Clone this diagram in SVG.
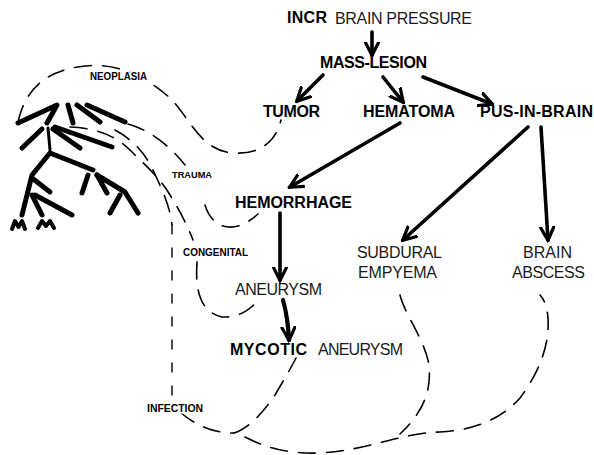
<svg xmlns="http://www.w3.org/2000/svg" width="594" height="455" viewBox="0 0 594 455">
<style>
.b{font-family:"Liberation Sans",Arial,sans-serif;font-weight:bold;font-size:16px;fill:#000}
.r{font-family:"Liberation Sans",Arial,sans-serif;font-size:16px;fill:#1a1a1a}
.s{font-family:"Liberation Sans",Arial,sans-serif;font-weight:bold;font-size:10px;fill:#000;stroke:#fff;stroke-width:3px;paint-order:stroke}
.arr{fill:none;stroke:#000;stroke-width:3.6;stroke-linecap:round;marker-end:url(#ah)}
.dash{fill:none;stroke:#000;stroke-width:1.6;stroke-dasharray:17 11;stroke-linecap:round}
.dot{fill:none;stroke:#000;stroke-width:1.4;stroke-dasharray:9 14;stroke-linecap:round}
.tr{fill:none;stroke:#000;stroke-width:5;stroke-linecap:round;stroke-linejoin:round}
</style>
<defs>
<marker id="ah" viewBox="0 0 16 16" refX="13.5" refY="8" markerWidth="16" markerHeight="16" markerUnits="userSpaceOnUse" orient="auto">
<path d="M1,1.5 L14,8 L1,14.5" fill="none" stroke="#000" stroke-width="3.2" stroke-linecap="round"/>
</marker>
</defs>
<rect width="594" height="455" fill="#fff"/>

<g id="tree">
<path class="tr" d="M18,123 L57,105 L47,123"/>
<path class="tr" d="M68,105 L73,123"/>
<path class="tr" d="M77,105 L100,122"/>
<path class="tr" d="M87,105 L125,122"/>
<path class="tr" d="M48,128 L50,150" style="stroke-width:3"/>
<path class="tr" d="M42,129 L22,148"/>
<path class="tr" d="M53,129 L80,148"/>
<path class="tr" d="M55,127 L112,147"/>
<path class="tr" d="M22,215 L32,175 L50,153 L93,170"/>
<path class="tr" d="M88,175 L82,193"/>
<path class="tr" d="M97,175 L107,193"/>
<path class="tr" d="M97,175 L125,192 L138,213"/>
<path class="tr" d="M120,195 L110,213"/>
<path class="tr" d="M32,178 L50,192"/>
<path class="tr" d="M32,195 L42,215"/>
<path class="tr" d="M35,195 L72,215"/>
<path class="tr" d="M12,229 L15,221 L18.5,227 L22,221 L25,229" style="stroke-width:4"/>
<path class="tr" d="M38,228 L42,221 L46,226 L50,221 L54,228" style="stroke-width:4"/>
</g>

<g id="connectors">
<path class="arr" d="M372,32 L372,55"/>
<path class="arr" d="M323,75 L297,101"/>
<path class="arr" d="M383,77 L403,102"/>
<path class="arr" d="M423,77 L492,104"/>
<path class="arr" d="M400,123 L290,187"/>
<path class="arr" d="M528,127 L403,240"/>
<path class="arr" d="M541,127 L548,240"/>
<path class="arr" d="M280,213 L280,280"/>
<path class="arr" d="M283,300 Q288,318 289,340" style="stroke-width:4.2"/>

<path class="dash" d="M18,122 C25,90 45,70 85,66 C120,62 150,80 170,98 C190,118 200,150 232,153 C262,155 276,140 281,120"/>
<path class="dash" d="M128,124 C150,130 170,146 185,165"/>
<path class="dash" d="M205,205 C208,215 215,226 228,227 C240,228 250,221 258,214"/>
<path class="dash" d="M70,127 C95,128 115,135 130,150 C145,165 160,178 170,195 C178,208 186,222 193,240"/>
<path class="dash" d="M197,262 C195,290 200,312 222,317 C240,318 252,308 258,300"/>
<path class="dash" d="M115,130 C130,138 143,150 152,168 C160,185 170,205 172,225"/>
<path class="dot" d="M172,225 L172,395"/>
<path class="dash" d="M180,412 C195,425 212,433 234,433"/>
<path class="dash" d="M234,433 C250,428 265,410 275,395 C285,378 292,366 296,358"/>
<path class="dash" d="M245,437 C265,447 285,454 320,453 C370,450 400,433 440,432 C480,430 505,415 520,398 C535,378 550,350 548,318 C547,305 543,298 540,295"/>
<path class="dash" d="M400,295 C405,315 425,340 429,365 C432,395 420,415 400,434"/>
</g>

<g id="incr"><text class="b" x="287" y="23" textLength="40">INCR</text><text class="r" x="335" y="24" textLength="137">BRAIN PRESSURE</text></g>
<g id="mass-lesion"><text class="b" x="320" y="68" textLength="107">MASS-LESION</text></g>
<g id="tumor"><text class="b" x="263" y="117" textLength="57">TUMOR</text></g>
<g id="hematoma"><text class="b" x="363" y="117" textLength="92">HEMATOMA</text></g>
<g id="pus-in-brain"><text class="b" x="480" y="117" textLength="113">PUS-IN-BRAIN</text></g>
<g id="hemorrhage"><text class="b" x="235" y="208" textLength="117">HEMORRHAGE</text></g>
<g id="subdural"><text class="r" x="357" y="258" textLength="85">SUBDURAL</text><text class="r" x="358" y="278" textLength="79">EMPYEMA</text></g>
<g id="abscess"><text class="r" x="523" y="258" textLength="49">BRAIN</text><text class="r" x="512" y="278" textLength="73">ABSCESS</text></g>
<g id="aneurysm"><text class="r" x="235" y="295" textLength="87">ANEURYSM</text></g>
<g id="mycotic"><text class="b" x="230" y="355" textLength="77">MYCOTIC</text><text class="r" x="318" y="355" textLength="85">ANEURYSM</text></g>
<g id="neoplasia"><text class="s" x="90" y="80" textLength="57" lengthAdjust="spacingAndGlyphs">NEOPLASIA</text></g>
<g id="trauma"><text class="s" x="172" y="178" textLength="40" lengthAdjust="spacingAndGlyphs" style="font-size:9px">TRAUMA</text></g>
<g id="congenital"><text class="s" x="183" y="256" textLength="65" lengthAdjust="spacingAndGlyphs">CONGENITAL</text></g>
<g id="infection"><text class="s" x="147" y="412" textLength="56" lengthAdjust="spacingAndGlyphs">INFECTION</text></g>
</svg>
